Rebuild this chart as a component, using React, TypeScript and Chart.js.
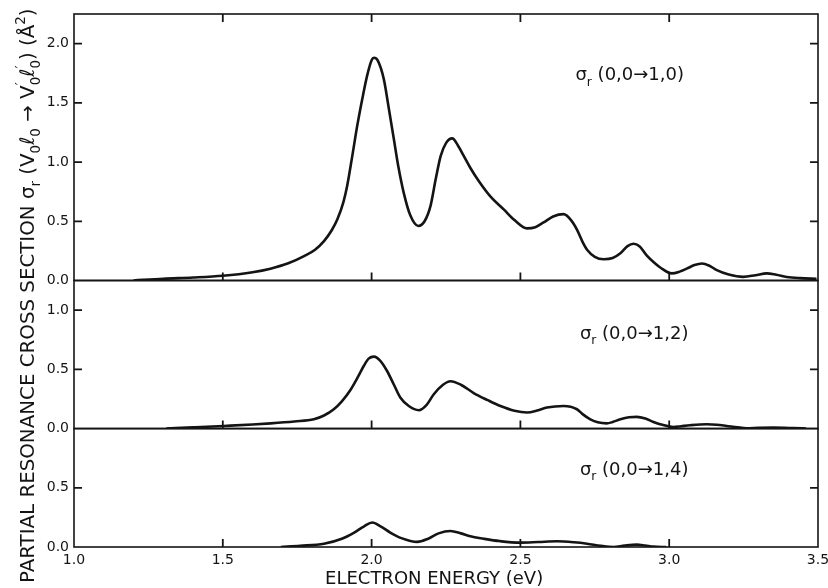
import React, { useEffect, useRef } from "react";
import { Chart, registerables } from "chart.js";

Chart.register(...registerables);

const FAMILY = "'DejaVu Sans', 'Noto Sans', sans-serif";
const INK = "#141414";

// ---- data: sigma_r (0,0 -> 1,0)
const energyA = [1.2, 1.3, 1.4, 1.5, 1.6, 1.66, 1.72, 1.773, 1.81, 1.84, 1.865, 1.885, 1.905, 1.918, 1.935, 1.952, 1.97, 1.985, 2.0, 2.008, 2.02, 2.041, 2.058, 2.075, 2.09, 2.108, 2.13, 2.157, 2.178, 2.198, 2.215, 2.232, 2.25, 2.271, 2.29, 2.31, 2.332, 2.36, 2.399, 2.444, 2.48, 2.522, 2.55, 2.578, 2.61, 2.645, 2.67, 2.69, 2.71, 2.724, 2.75, 2.78, 2.81, 2.836, 2.86, 2.88, 2.9, 2.925, 2.95, 2.97, 3.009, 3.035, 3.059, 3.085, 3.11, 3.135, 3.16, 3.2, 3.249, 3.29, 3.328, 3.36, 3.395, 3.44, 3.495];
const sigmaA = [0.0, 0.015, 0.025, 0.04, 0.07, 0.1, 0.145, 0.206, 0.26, 0.333, 0.42, 0.517, 0.66, 0.8, 1.05, 1.31, 1.55, 1.73, 1.86, 1.88, 1.86, 1.7, 1.45, 1.19, 0.96, 0.74, 0.55, 0.46, 0.5, 0.63, 0.85, 1.05, 1.16, 1.2, 1.14, 1.05, 0.95, 0.84, 0.71, 0.6, 0.51, 0.44, 0.45, 0.49, 0.54, 0.56, 0.51, 0.43, 0.32, 0.26, 0.2, 0.18, 0.19, 0.23, 0.29, 0.31, 0.29, 0.21, 0.15, 0.11, 0.06, 0.075, 0.1, 0.13, 0.144, 0.125, 0.087, 0.05, 0.031, 0.045, 0.06, 0.048, 0.03, 0.02, 0.014];

// ---- data: sigma_r (0,0 -> 1,2)
const energyB = [1.31, 1.4, 1.504, 1.6, 1.661, 1.74, 1.806, 1.84, 1.873, 1.9, 1.93, 1.955, 1.974, 1.99, 2.008, 2.03, 2.052, 2.075, 2.097, 2.125, 2.159, 2.185, 2.209, 2.24, 2.265, 2.3, 2.343, 2.39, 2.433, 2.48, 2.522, 2.56, 2.589, 2.645, 2.69, 2.71, 2.735, 2.76, 2.79, 2.81, 2.836, 2.865, 2.891, 2.92, 2.947, 2.98, 3.014, 3.04, 3.07, 3.126, 3.16, 3.193, 3.23, 3.26, 3.3, 3.35, 3.417, 3.46];
const sigmaB = [0.0, 0.01, 0.022, 0.034, 0.044, 0.06, 0.078, 0.11, 0.163, 0.23, 0.33, 0.44, 0.53, 0.59, 0.607, 0.57, 0.486, 0.37, 0.26, 0.19, 0.155, 0.2, 0.29, 0.37, 0.4, 0.37, 0.3, 0.24, 0.19, 0.15, 0.135, 0.155, 0.177, 0.19, 0.163, 0.12, 0.078, 0.053, 0.044, 0.055, 0.078, 0.095, 0.099, 0.085, 0.056, 0.03, 0.013, 0.02, 0.028, 0.036, 0.032, 0.022, 0.01, 0.003, 0.006, 0.008, 0.004, 0.0];

// ---- data: sigma_r (0,0 -> 1,4)
const energyC = [1.695, 1.76, 1.84, 1.9, 1.94, 1.975, 2.002, 2.03, 2.064, 2.1, 2.153, 2.19, 2.225, 2.265, 2.3, 2.332, 2.376, 2.43, 2.5, 2.56, 2.623, 2.68, 2.724, 2.77, 2.813, 2.85, 2.891, 2.92, 2.947, 2.99];
const sigmaC = [0.0, 0.01, 0.028, 0.07, 0.12, 0.175, 0.207, 0.175, 0.12, 0.075, 0.043, 0.07, 0.115, 0.135, 0.115, 0.09, 0.07, 0.05, 0.037, 0.042, 0.048, 0.04, 0.028, 0.01, 0.0, 0.012, 0.02, 0.012, 0.003, 0.0];

// ---- axes
const xTickValues = [1.0, 1.5, 2.0, 2.5, 3.0, 3.5];
const xMin = 1.0;
const xMax = 3.5;
const yTicksA = [0, 0.5, 1.0, 1.5, 2.0];
const yTicksB = [0, 0.5, 1.0];
const yTicksC = [0, 0.5];
const panelMaxA = 2.25;
const panelMaxB = 1.25;
const panelMaxC = 1.0;

// ---- text
const panelLabels = ["(0,0\u21921,0)", "(0,0\u21921,2)", "(0,0\u21921,4)"];
const panelLabelX = [2.685, 2.7, 2.7];
const panelLabelY = [1.69, 0.757, 0.61];
const xTitle = "ELECTRON ENERGY (eV)";
const xTitleCenter = 2.21;
const yTitleMain = "PARTIAL RESONANCE CROSS SECTION ";

type Seg = { k: "n" | "sub" | "sup" | "stack"; t: string; t2?: string };

const yTitleSegs: Seg[] = [
  { k: "n", t: yTitleMain },
  { k: "n", t: "\u03C3" },
  { k: "sub", t: "r" },
  { k: "n", t: " (V" },
  { k: "sub", t: "0" },
  { k: "n", t: "\u2113" },
  { k: "sub", t: "0" },
  { k: "n", t: " \u2192 V" },
  { k: "stack", t: "\u2032", t2: "0" },
  { k: "n", t: "\u2113" },
  { k: "stack", t: "\u2032", t2: "0" },
  { k: "n", t: ") (\u00C5" },
  { k: "sup", t: "2" },
  { k: "n", t: ")" },
];

function rich(ctx: CanvasRenderingContext2D, segs: Seg[], x: number, y: number, size: number, draw: boolean): number {
  let cx = x;
  const small = size * 0.68;
  for (const s of segs) {
    if (s.k === "n") {
      ctx.font = `${size}px ${FAMILY}`;
      if (draw) ctx.fillText(s.t, cx, y);
      cx += ctx.measureText(s.t).width;
    } else if (s.k === "sub") {
      ctx.font = `${small}px ${FAMILY}`;
      if (draw) ctx.fillText(s.t, cx, y + size * 0.3);
      cx += ctx.measureText(s.t).width;
    } else if (s.k === "sup") {
      ctx.font = `${small}px ${FAMILY}`;
      if (draw) ctx.fillText(s.t, cx, y - size * 0.45);
      cx += ctx.measureText(s.t).width;
    } else {
      ctx.font = `${small}px ${FAMILY}`;
      const w1 = ctx.measureText(s.t).width;
      const w2 = ctx.measureText(s.t2 || "").width;
      if (draw) {
        ctx.fillText(s.t, cx, y - size * 0.45);
        ctx.fillText(s.t2 || "", cx, y + size * 0.3);
      }
      cx += Math.max(w1, w2);
    }
  }
  return cx - x;
}

const panelIds = ["yA", "yB", "yC"];

const decorPlugin = {
  id: "decor",
  beforeDraw(chart: any) {
    const { ctx, width, height } = chart;
    ctx.save();
    ctx.fillStyle = "#ffffff";
    ctx.fillRect(0, 0, width, height);
    ctx.restore();
  },
  afterDatasetsDraw(chart: any) {
    const { ctx, scales } = chart;
    const xs = scales.x;
    const tl = 8;
    ctx.save();
    ctx.strokeStyle = INK;
    ctx.lineWidth = 1.6;
    // panel frames
    panelIds.forEach((id) => {
      const s = scales[id];
      ctx.strokeRect(xs.left, s.top, xs.right - xs.left, s.bottom - s.top);
    });
    ctx.lineWidth = 1.8;
    ctx.beginPath();
    // y ticks, inward on both sides
    panelIds.forEach((id) => {
      const s = scales[id];
      s.ticks.forEach((t: any) => {
        if (t.value <= s.min || t.value >= s.max) return;
        const py = s.getPixelForValue(t.value);
        ctx.moveTo(xs.left, py);
        ctx.lineTo(xs.left + tl, py);
        ctx.moveTo(xs.right, py);
        ctx.lineTo(xs.right - tl, py);
      });
    });
    // x ticks: downward from the top frame, upward from each panel floor
    const top = scales[panelIds[0]];
    xs.ticks.forEach((t: any) => {
      if (t.value <= xs.min || t.value >= xs.max) return;
      const px = xs.getPixelForValue(t.value);
      ctx.moveTo(px, top.top);
      ctx.lineTo(px, top.top + tl);
      panelIds.forEach((id) => {
        const s = scales[id];
        ctx.moveTo(px, s.bottom);
        ctx.lineTo(px, s.bottom - tl);
      });
    });
    ctx.stroke();

    // panel labels
    ctx.fillStyle = INK;
    ctx.textBaseline = "alphabetic";
    ctx.textAlign = "left";
    panelIds.forEach((id, i) => {
      const s = scales[id];
      const px = xs.getPixelForValue(panelLabelX[i]);
      const py = s.getPixelForValue(panelLabelY[i]);
      rich(ctx, [{ k: "n", t: "\u03C3" }, { k: "sub", t: "r" }, { k: "n", t: " " + panelLabels[i] }], px, py, 18, true);
    });

    // x title
    ctx.font = `18px ${FAMILY}`;
    ctx.textAlign = "center";
    ctx.fillText(xTitle, xs.getPixelForValue(xTitleCenter), chart.height - 4);

    // y title (rotated)
    ctx.textAlign = "left";
    const span = (scales[panelIds[2]].bottom + 36) - 8;
    const w17 = rich(ctx, yTitleSegs, 0, 0, 17, false);
    const size = 17 * span / w17;
    ctx.translate(34, scales[panelIds[2]].bottom + 36);
    ctx.rotate(-Math.PI / 2);
    rich(ctx, yTitleSegs, 0, 0, size, true);
    ctx.restore();
  },
};

function yScale(max: number, ticks: number[], weight: number) {
  return {
    type: "linear",
    position: "left",
    stack: "panels",
    stackWeight: max,
    weight,
    min: 0,
    max,
    afterBuildTicks: (s: any) => {
      s.ticks = ticks.map((v) => ({ value: v }));
    },
    afterFit: (s: any) => {
      s.width = 74;
      s.paddingTop = 0;
      s.paddingBottom = 0;
    },
    ticks: {
      padding: 5,
      color: INK,
      font: { size: 14, family: FAMILY },
      callback: (v: any) => Number(v).toFixed(1),
    },
    grid: { display: false, drawTicks: false },
    border: { display: false },
  };
}

export default function App() {
  const ref = useRef<HTMLCanvasElement | null>(null);
  useEffect(() => {
    if (!ref.current) return;
    const line = (xs: number[], ys: number[], axis: string, label: string) => ({
      label,
      data: xs.map((x, i) => ({ x, y: ys[i] })),
      yAxisID: axis,
      xAxisID: "x",
      borderColor: INK,
      borderWidth: 2.6,
      pointRadius: 0,
      fill: false,
      cubicInterpolationMode: "monotone",
    });
    const chart = new Chart(ref.current, {
      type: "line",
      data: {
        datasets: [
          line(energyA, sigmaA, "yA", "\u03C3r " + panelLabels[0]),
          line(energyB, sigmaB, "yB", "\u03C3r " + panelLabels[1]),
          line(energyC, sigmaC, "yC", "\u03C3r " + panelLabels[2]),
        ] as any,
      },
      options: {
        responsive: false,
        animation: false,
        layout: { padding: { top: 14, right: 10, bottom: 0, left: 0 } },
        plugins: { legend: { display: false }, tooltip: { enabled: false } },
        scales: {
          x: {
            type: "linear",
            position: "bottom",
            min: xMin,
            max: xMax,
            afterBuildTicks: (s: any) => {
              s.ticks = xTickValues.map((v) => ({ value: v }));
            },
            afterFit: (s: any) => {
              s.height = 41;
              s.paddingLeft = 0;
              s.paddingRight = 0;
            },
            ticks: {
              autoSkip: false,
              maxRotation: 0,
              padding: 5,
              color: INK,
              font: { size: 14, family: FAMILY },
              callback: (v: any) => Number(v).toFixed(1),
            },
            grid: { display: false, drawTicks: false },
            border: { display: false },
          },
          yC: yScale(panelMaxC, yTicksC, 1),
          yB: yScale(panelMaxB, yTicksB, 2),
          yA: yScale(panelMaxA, yTicksA, 3),
        } as any,
      },
      plugins: [decorPlugin],
    });
    return () => chart.destroy();
  }, []);
  return (
    <div style={{ position: "absolute", left: 0, top: 0, width: 828, height: 588 }}>
      <canvas ref={ref} width={828} height={588} />
    </div>
  );
}
